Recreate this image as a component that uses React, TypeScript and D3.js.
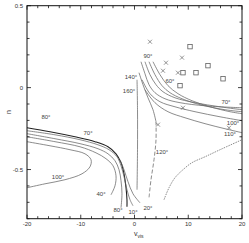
import React from "react";
import * as d3 from "d3";

type P = [number, number];

// Left family (v_vis, n)
const curveL1: P[] = [[-20,-0.245],[-15.72,-0.269],[-11.07,-0.300],[-7.35,-0.330],[-4.93,-0.361],[-3.44,-0.404],[-2.51,-0.458],[-1.95,-0.526],[-1.58,-0.611],[-1.40,-0.684],[-1.40,-0.727]];
const curveL2: P[] = [[-20,-0.263],[-14.79,-0.288],[-10.14,-0.318],[-6.79,-0.349],[-4.74,-0.379],[-3.26,-0.422],[-2.51,-0.477],[-1.95,-0.544],[-1.40,-0.623],[-0.84,-0.684],[-0.28,-0.721]];
const curveL3: P[] = [[-20,-0.281],[-14.79,-0.312],[-10.14,-0.342],[-6.79,-0.373],[-4.93,-0.404],[-3.63,-0.446],[-2.88,-0.501],[-2.51,-0.568],[-2.33,-0.648],[-2.51,-0.733]];
const curveL4: P[] = [[-20,-0.300],[-14.79,-0.330],[-10.14,-0.361],[-7.16,-0.398],[-5.30,-0.434],[-4.0,-0.477],[-3.44,-0.538],[-3.63,-0.599],[-4.37,-0.654]];
const curveL6: P[] = [[-20,-0.330],[-15.72,-0.355],[-12.0,-0.379],[-9.21,-0.404],[-8.09,-0.440],[-8.28,-0.483],[-9.77,-0.526],[-12.93,-0.562],[-16.65,-0.587],[-20,-0.611]];
const curveF20: P[] = [[-2.70,-0.440],[-1.95,-0.501],[-1.21,-0.574],[-0.28,-0.648],[1.02,-0.703]];

// Right family
const curveR1: P[] = [[1.21,0.158],[1.95,0.085],[2.70,0.018],[3.81,-0.031],[5.67,-0.068],[8.47,-0.092],[13.12,-0.111],[20,-0.123]];
const curveR2: P[] = [[1.95,0.158],[2.88,0.079],[4.0,0.018],[5.30,-0.025],[7.53,-0.062],[11.26,-0.092],[15.91,-0.117],[20,-0.135]];
const curveR3: P[] = [[2.70,0.158],[3.81,0.079],[5.12,0.012],[6.60,-0.031],[8.84,-0.068],[12.19,-0.104],[16.84,-0.135],[20,-0.147]];
const curveR4: P[] = [[3.44,0.158],[4.74,0.079],[6.23,0.012],[8.09,-0.037],[10.70,-0.080],[14.05,-0.117],[17.77,-0.147],[20,-0.159]];
const curveR5: P[] = [[1.40,0.048],[2.88,-0.037],[4.74,-0.086],[7.53,-0.117],[11.26,-0.147],[15.91,-0.178],[20,-0.202]];
const curveR6: P[] = [[1.95,-0.013],[3.81,-0.092],[6.23,-0.147],[9.40,-0.184],[13.12,-0.220],[16.84,-0.251],[20,-0.275]];
const curveR7: P[] = [[5.49,-0.684],[6.42,-0.611],[7.53,-0.550],[9.02,-0.501],[10.70,-0.458],[13.12,-0.422],[15.91,-0.379],[20,-0.318]];

// Center
const curveC140a: P[] = [[0.84,0.091],[1.58,0.018],[2.51,-0.062],[3.44,-0.135],[4.0,-0.208]];
const curveC140b: P[] = [[4.0,-0.208],[4.0,-0.318],[3.63,-0.440],[3.07,-0.562],[2.70,-0.672]];
const curveC160: P[] = [[0.47,0.048],[0.56,-0.135],[0.56,-0.379],[0.47,-0.623]];

// Markers
const crosses: P[] = [[2.88,0.280],[5.86,0.152],[8.84,0.183],[5.30,0.103],[8.09,0.091],[9.02,-0.123],[4.37,-0.226],[17.58,-0.245]];
const squares: P[] = [[10.33,0.250],[13.67,0.134],[9.02,0.091],[11.44,0.091],[16.47,0.054],[8.47,0.012]];

// Angle labels
const labelText = ["80°","70°","100°","40°","80°","10°","20°","120°","140°","160°","90°","60°","70°","100°","110°"];
const labelV = [-16.47,-8.65,-14.23,-6.23,-3.07,-0.28,2.51,5.12,-0.65,-1.02,2.51,6.60,17.02,18.33,17.77];
const labelN = [-0.178,-0.275,-0.544,-0.647,-0.745,-0.757,-0.733,-0.391,0.067,-0.019,0.195,0.042,-0.086,-0.214,-0.281];

const xTicksMajor = [-20, -10, 0, 10, 20];
const xTickLabels = ["-20", "-10", "0", "10", "20"];
const yTicksMajor = [0.5, 0, -0.5];
const yTickLabels = ["0.5", "0", "-0.5"];

export default function App() {
  const x = d3.scaleLinear().domain([-20, 20]).range([27, 242]);
  const y = d3.scaleLinear().domain([-0.8, 0.5]).range([218.7, 5.7]);
  const line = d3.line<P>().x(d => x(d[0])).y(d => y(d[1])).curve(d3.curveCatmullRom.alpha(0.5));

  const xMinor = d3.range(-20, 20.01, 2);
  const yMinor = d3.range(-0.8, 0.501, 0.1);
  const font = "'Liberation Sans', Arial, sans-serif";

  const thin = { fill: "none", stroke: "#666", strokeWidth: 0.75 } as const;

  return (
    <svg width={249} height={243} style={{ position: "absolute", left: 0, top: 0, background: "#fff" }}>
      {/* curves */}
      <path d={line(curveL1)!} fill="none" stroke="#222" strokeWidth={1.1} />
      <path d={line(curveL2)!} {...thin} />
      <path d={line(curveL3)!} {...thin} />
      <path d={line(curveL4)!} {...thin} />
      <path d={line(curveL6)!} {...thin} />
      <path d={line(curveF20)!} {...thin} />
      <path d={line(curveR1)!} {...thin} />
      <path d={line(curveR2)!} {...thin} />
      <path d={line(curveR3)!} {...thin} />
      <path d={line(curveR4)!} {...thin} />
      <path d={line(curveR5)!} {...thin} />
      <path d={line(curveR6)!} {...thin} />
      <path d={line(curveR7)!} {...thin} strokeDasharray="1.5,1" />
      <path d={line(curveC140a)!} {...thin} />
      <path d={line(curveC140b)!} {...thin} strokeDasharray="4,2" />
      <path d={line(curveC160)!} {...thin} />

      {/* markers */}
      {crosses.map((d, i) => (
        <path key={"c" + i} d={`M${x(d[0]) - 2},${y(d[1]) - 2}L${x(d[0]) + 2},${y(d[1]) + 2}M${x(d[0]) - 2},${y(d[1]) + 2}L${x(d[0]) + 2},${y(d[1]) - 2}`} stroke="#666" strokeWidth={0.7} fill="none" />
      ))}
      {squares.map((d, i) => (
        <rect key={"s" + i} x={x(d[0]) - 2.2} y={y(d[1]) - 2.2} width={4.4} height={4.4} fill="none" stroke="#555" strokeWidth={0.75} />
      ))}

      {/* labels */}
      {labelText.map((t, i) => (
        <text key={"l" + i} x={x(labelV[i])} y={y(labelN[i])} fontSize={6} fontFamily={font} textAnchor="middle" dominantBaseline="central" fill="#444">{t}</text>
      ))}

      {/* frame */}
      <rect x={27} y={5.7} width={215} height={213} fill="none" stroke="#111" strokeWidth={1} />

      {/* x ticks */}
      {xMinor.map((v, i) => {
        const major = Math.abs(v % 10) < 1e-6;
        const len = major ? 4 : 2.5;
        return (
          <g key={"xt" + i}>
            <line x1={x(v)} x2={x(v)} y1={218.7} y2={218.7 - len} stroke="#111" strokeWidth={0.8} />
            <line x1={x(v)} x2={x(v)} y1={5.7} y2={5.7 + len} stroke="#111" strokeWidth={0.8} />
          </g>
        );
      })}
      {yMinor.map((v, i) => {
        const major = Math.abs(Math.round(v * 10) % 5) === 0;
        const len = major ? 4 : 2.5;
        return (
          <g key={"yt" + i}>
            <line x1={27} x2={27 + len} y1={y(v)} y2={y(v)} stroke="#111" strokeWidth={0.8} />
            <line x1={242} x2={242 - len} y1={y(v)} y2={y(v)} stroke="#111" strokeWidth={0.8} />
          </g>
        );
      })}
      {xTicksMajor.map((v, i) => (
        <text key={"xl" + i} x={x(v)} y={223.5} fontSize={6} fontFamily={font} textAnchor="middle" dominantBaseline="central" fill="#333">{xTickLabels[i]}</text>
      ))}
      {yTicksMajor.map((v, i) => (
        <text key={"yl" + i} x={23} y={y(v)} fontSize={6} fontFamily={font} textAnchor="end" dominantBaseline="central" fill="#333">{yTickLabels[i]}</text>
      ))}

      {/* axis titles */}
      <text x={134} y={236} fontSize={7} fontFamily={font} fill="#333">v<tspan fontSize={5} dy={1.5}>vis</tspan></text>
      <text transform="translate(8,112) rotate(-90)" fontSize={7} fontFamily={font} textAnchor="middle" dominantBaseline="central" fill="#333">n</text>
    </svg>
  );
}
